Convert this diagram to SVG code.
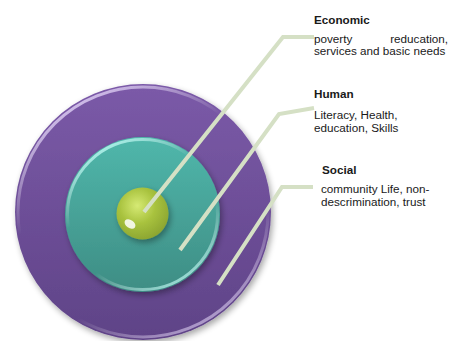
<svg xmlns="http://www.w3.org/2000/svg" width="450" height="341" viewBox="0 0 450 341">
<style>
.t{font-family:"Liberation Sans",Arial,sans-serif;font-size:11.7px;fill:#1a1a1a}
.b{font-weight:bold}
.conn{fill:none;stroke:#d5e0c5;stroke-width:4;stroke-linejoin:miter}
</style>
<defs>
<linearGradient id="gP" x1="0" y1="0" x2="0" y2="1">
<stop offset="0" stop-color="#7b5aa8"/><stop offset="1" stop-color="#5f4387"/>
</linearGradient>
<linearGradient id="gPr" x1="0.2" y1="0" x2="0.8" y2="1">
<stop offset="0" stop-color="#e7d6ff" stop-opacity="0.9"/><stop offset="0.35" stop-color="#ffffff" stop-opacity="0"/><stop offset="0.7" stop-color="#ffffff" stop-opacity="0"/><stop offset="1" stop-color="#e7d6ff" stop-opacity="0.7"/>
</linearGradient>
<linearGradient id="gT" x1="0" y1="0" x2="0" y2="1">
<stop offset="0" stop-color="#50b7ab"/><stop offset="1" stop-color="#3e8d84"/>
</linearGradient>
<linearGradient id="gTr" x1="0.2" y1="0" x2="0.8" y2="1">
<stop offset="0" stop-color="#b6fff6" stop-opacity="0.9"/><stop offset="0.35" stop-color="#ffffff" stop-opacity="0"/><stop offset="0.65" stop-color="#ffffff" stop-opacity="0"/><stop offset="1" stop-color="#b6fff6" stop-opacity="0.8"/>
</linearGradient>
<radialGradient id="gG" cx="0.4" cy="0.35" r="0.7">
<stop offset="0" stop-color="#d6ea74"/><stop offset="0.5" stop-color="#a8c23e"/><stop offset="1" stop-color="#8aa330"/>
</radialGradient>
<filter id="sh" x="-20%" y="-20%" width="140%" height="140%">
<feGaussianBlur in="SourceAlpha" stdDeviation="3"/>
<feOffset dx="2" dy="3" result="o"/>
<feComponentTransfer><feFuncA type="linear" slope="0.35"/></feComponentTransfer>
<feMerge><feMergeNode/><feMergeNode in="SourceGraphic"/></feMerge>
</filter>
</defs>
<g id="social-ring">
<circle cx="143" cy="212" r="128" fill="url(#gP)" filter="url(#sh)"/>
<circle cx="143" cy="212" r="125" fill="none" stroke="url(#gPr)" stroke-width="3"/>
</g>
<g id="human-ring">
<circle cx="142.5" cy="214.5" r="77.5" fill="url(#gT)" filter="url(#sh)"/>
<circle cx="142.5" cy="214.5" r="75" fill="none" stroke="url(#gTr)" stroke-width="3"/>
</g>
<g id="economic-core">
<circle cx="142.5" cy="213.5" r="26" fill="url(#gG)" filter="url(#sh)"/>
<ellipse cx="130" cy="224" rx="6" ry="4" fill="#ffffff" opacity="0.85" transform="rotate(35 130 224)"/>
</g>
<g id="connectors">
<polyline class="conn" points="144,212 283,37 314,37"/>
<polyline class="conn" points="180,250 279,114 314,108"/>
<polyline class="conn" points="218,285 282,187 313,187"/>
</g>
<g id="label-economic">
<text class="t b" x="314" y="24">Economic</text>
<text class="t"><tspan x="314" y="43">poverty</tspan><tspan x="448" y="43" text-anchor="end">reducation,</tspan><tspan x="314" y="55">services and basic needs</tspan></text>
</g>
<g id="label-human">
<text class="t b" x="314" y="98">Human</text>
<text class="t"><tspan x="314" y="119">Literacy, Health,</tspan><tspan x="314" y="131.5">education, Skills</tspan></text>
</g>
<g id="label-social">
<text class="t b" x="322" y="174">Social</text>
<text class="t"><tspan x="321" y="193">community Life, non-</tspan><tspan x="321" y="205.5">descrimination, trust</tspan></text>
</g>
</svg>
